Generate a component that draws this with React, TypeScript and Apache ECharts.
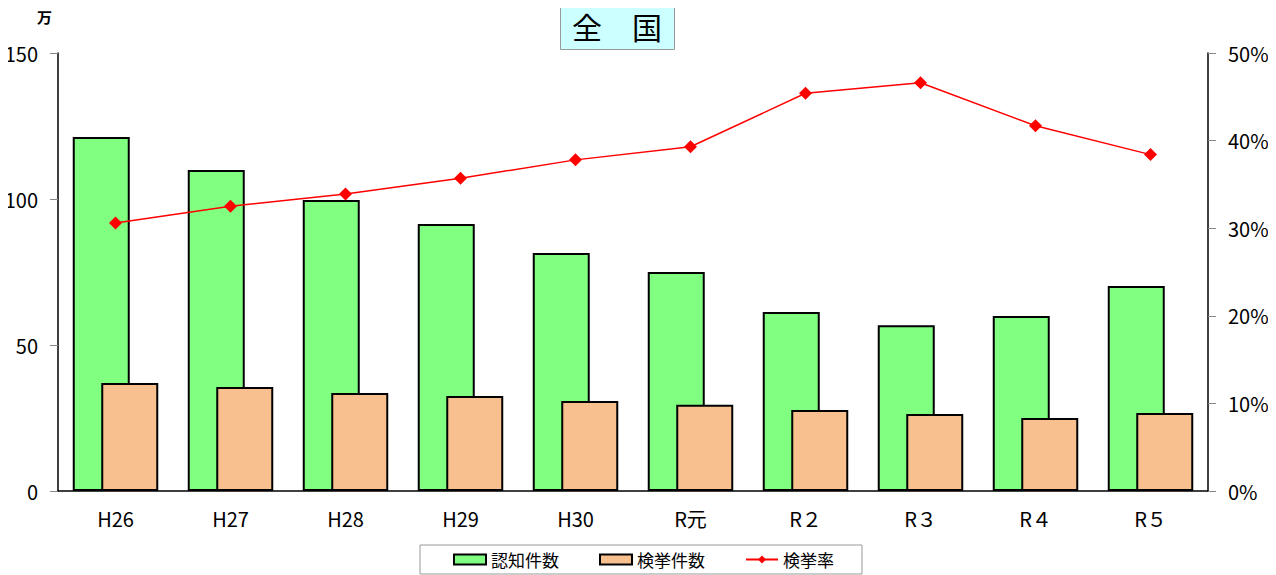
import React, { useEffect, useRef } from "react";
import * as echarts from "echarts";

const categories = ["H26", "H27", "H28", "H29", "H30", "R元", "R２", "R３", "R４", "R５"];
const ninchi = [121.2, 109.9, 99.7, 91.4, 81.5, 75.0, 61.3, 56.8, 59.9, 70.2];
const kenkyo = [37.0, 35.6, 33.6, 32.5, 30.8, 29.5, 27.7, 26.4, 25.0, 26.7];
const rate = [30.6, 32.5, 33.9, 35.7, 37.8, 39.3, 45.4, 46.6, 41.7, 38.4];
const leftTicks = [0, 50, 100, 150];
const rightTicks = [0, 10, 20, 30, 40, 50];
const titleText = "全　国";

const FONT = "'Noto Sans CJK JP', 'Noto Sans', sans-serif";

export default function App() {
  const ref = useRef<HTMLDivElement>(null);
  useEffect(() => {
    if (!ref.current) return;
    const chart = echarts.init(ref.current, null, { renderer: "svg" });
    chart.setOption({
      animation: false,
      textStyle: { fontFamily: FONT, color: "#000" },
      graphic: [
        {
          type: "rect",
          shape: { x: 560.5, y: 2.5, width: 114, height: 47 },
          style: { fill: "#ccffff", stroke: "#999", lineWidth: 1 },
        },
        {
          type: "text",
          x: 617,
          y: 26,
          style: {
            text: titleText,
            fontSize: 30,
            fontFamily: FONT,
            fill: "#000",
            align: "center",
            verticalAlign: "middle",
          },
        },
        {
          type: "text",
          left: 37,
          top: 9,
          style: { text: "万", fontSize: 15, fontWeight: "bold", fontFamily: FONT, fill: "#000" },
        },
      ],
      legend: {
        left: 420,
        top: 545,
        padding: [6, 28, 6, 33],
        itemGap: 40,
        itemWidth: 32,
        itemHeight: 10,
        borderColor: "#999",
        borderWidth: 1,
        textStyle: { fontFamily: FONT, fontSize: 17, color: "#000" },
        data: [
          { name: "認知件数", icon: "rect" },
          { name: "検挙件数", icon: "rect" },
          { name: "検挙率" },
        ],
      },
      grid: { left: 58, right: 68, top: 53, bottom: 84 },
      xAxis: {
        type: "category",
        data: categories,
        axisLine: { lineStyle: { color: "#000", width: 1.5 } },
        axisTick: { inside: true, length: 6, lineStyle: { color: "#888" } },
        axisLabel: { fontSize: 20, margin: 17, color: "#000", fontFamily: FONT },
      },
      yAxis: [
        {
          type: "value",
          min: leftTicks[0],
          max: leftTicks[leftTicks.length - 1],
          interval: 50,
          axisLine: { show: true, lineStyle: { color: "#000", width: 1.5 } },
          axisTick: { show: true, length: 8, lineStyle: { color: "#888" } },
          splitLine: { show: false },
          axisLabel: { fontSize: 20, margin: 20, color: "#000", fontFamily: FONT },
        },
        {
          type: "value",
          min: rightTicks[0],
          max: rightTicks[rightTicks.length - 1],
          interval: 10,
          position: "right",
          axisLine: { show: true, lineStyle: { color: "#000", width: 1.5 } },
          axisTick: { show: true, length: 8, lineStyle: { color: "#888" } },
          splitLine: { show: false },
          axisLabel: { fontSize: 20, margin: 20, color: "#000", fontFamily: FONT, formatter: "{value}%" },
        },
      ],
      series: [
        {
          name: "認知件数",
          type: "bar",
          data: ninchi,
          barWidth: 57,
          barGap: "-50%",
          itemStyle: { color: "#80ff80", borderColor: "#000", borderWidth: 2 },
        },
        {
          name: "検挙件数",
          type: "bar",
          data: kenkyo,
          barWidth: 57,
          barGap: "-50%",
          itemStyle: { color: "#f9c08f", borderColor: "#000", borderWidth: 2 },
        },
        {
          name: "検挙率",
          type: "line",
          yAxisIndex: 1,
          data: rate,
          symbol: "diamond",
          symbolSize: 13,
          lineStyle: { color: "#ff0000", width: 1.5 },
          itemStyle: { color: "#ff0000" },
        },
      ],
    });
    return () => chart.dispose();
  }, []);
  return <div ref={ref} style={{ width: 1276, height: 575, marginLeft: -8, marginTop: -8 }} />;
}
